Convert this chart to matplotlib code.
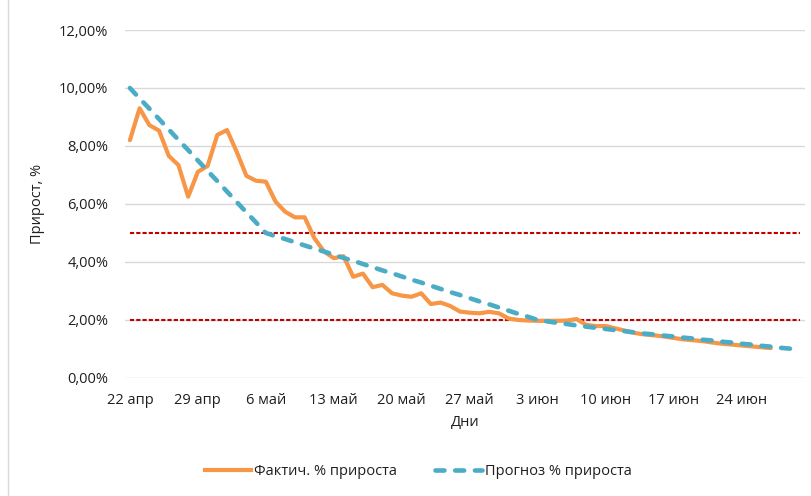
import matplotlib
matplotlib.use("Agg")
import matplotlib.pyplot as plt
from matplotlib.lines import Line2D
from matplotlib.ticker import FuncFormatter
import pandas as pd

plt.rcParams['font.family'] = ['Open Sans', 'DejaVu Sans']

# Дни наблюдений: 22 апр - 30 июн
dates = pd.date_range('2020-04-22', periods=70)

# Фактический прирост, % (данные до 27 июн)
fact = [8.20, 9.30, 8.72, 8.53, 7.66, 7.34, 6.25, 7.11, 7.31, 8.38,
        8.55, 7.80, 6.97, 6.80, 6.77, 6.08, 5.73, 5.54, 5.54, 4.82,
        4.36, 4.13, 4.20, 3.49, 3.60, 3.13, 3.21, 2.92, 2.84, 2.80,
        2.92, 2.55, 2.60, 2.48, 2.29, 2.25, 2.23, 2.28, 2.23, 2.05,
        2.00, 1.98, 1.97, 1.97, 1.97, 1.98, 2.03, 1.83, 1.79, 1.79,
        1.71, 1.63, 1.55, 1.50, 1.47, 1.43, 1.38, 1.33, 1.30, 1.27,
        1.22, 1.18, 1.15, 1.12, 1.09, 1.06, 1.03]

# Прогноз прироста, %
forecast = [10.00, 9.64, 9.29, 8.93, 8.57, 8.21, 7.86, 7.50, 7.14, 6.79,
            6.43, 6.07, 5.71, 5.36, 5.00, 4.89, 4.79, 4.68, 4.57, 4.46,
            4.36, 4.25, 4.14, 4.04, 3.93, 3.82, 3.71, 3.61, 3.50, 3.39,
            3.29, 3.18, 3.07, 2.96, 2.86, 2.75, 2.64, 2.54, 2.43, 2.32,
            2.21, 2.11, 2.00, 1.95, 1.90, 1.86, 1.81, 1.77, 1.73, 1.69,
            1.65, 1.61, 1.57, 1.53, 1.50, 1.46, 1.43, 1.39, 1.36, 1.32,
            1.29, 1.25, 1.22, 1.18, 1.15, 1.11, 1.08, 1.04, 1.01, 0.97]

# Пороговые уровни, %
level_hi = [5.0] * len(dates)
level_lo = [2.0] * len(dates)

tick_labels = ['22 апр', '29 апр', '6 май', '13 май', '20 май', '27 май',
               '3 июн', '10 июн', '17 июн', '24 июн']

text_color = '#1f1f1f'
orange = '#F79646'
blue = '#4BACC6'
red = '#C00000'
fs = 10.5
blue_dash = (0, (1.95, 2.35))

fig = plt.figure(figsize=(8.12, 4.96), dpi=100)
ax = fig.add_axes([0.154, 0.238, 0.837, 0.7015])

ax.plot(dates, level_hi, color=red, lw=1.5, linestyle=(0, (2.0, 1.0)), zorder=2)
ax.plot(dates, level_lo, color=red, lw=1.5, linestyle=(0, (2.0, 1.0)), zorder=2)
ax.plot(dates[:len(fact)], fact, color=orange, lw=3.0,
        solid_joinstyle='round', solid_capstyle='round', zorder=3)
ax.plot(dates, forecast, color=blue, lw=3.3, linestyle=blue_dash,
        dash_capstyle='round', zorder=4)

ax.set_ylim(0, 12)
ax.set_yticks([0, 2, 4, 6, 8, 10, 12])
ax.yaxis.set_major_formatter(FuncFormatter(lambda v, p: f'{v:.2f}%'.replace('.', ',')))
ax.set_xlim(dates[0] - pd.Timedelta(hours=12), dates[-1] + pd.Timedelta(hours=12))
ax.set_xticks(dates[::7])
ax.set_xticklabels(tick_labels)

ax.grid(axis='y', color='#d9d9d9', lw=1.0)
ax.set_axisbelow(True)
for s in ax.spines.values():
    s.set_visible(False)
ax.tick_params(length=0, labelsize=fs, colors=text_color)
ax.tick_params(axis='y', pad=12)
ax.tick_params(axis='x', pad=11)

ax.set_xlabel('Дни', fontsize=fs, color=text_color, labelpad=5)
ax.set_ylabel('Прирост, %', fontsize=fs, color=text_color, labelpad=10)

handles = [Line2D([], [], color=orange, lw=3.0),
           Line2D([], [], color=blue, lw=3.3, linestyle=blue_dash,
                  dash_capstyle='round')]
leg = fig.legend(handles, ['Фактич. % прироста', 'Прогноз % прироста'],
                 loc='center', bbox_to_anchor=(0.515, 0.05), ncol=2,
                 frameon=False, fontsize=fs, handlelength=3.2,
                 handletextpad=0.2, columnspacing=2.6)
for t in leg.get_texts():
    t.set_color(text_color)

# рамка области диаграммы слева
fig.add_artist(Line2D([8 / 812, 8 / 812], [0, 1], color='#d9d9d9', lw=1.0))

fig.savefig('out.png', dpi=100)
